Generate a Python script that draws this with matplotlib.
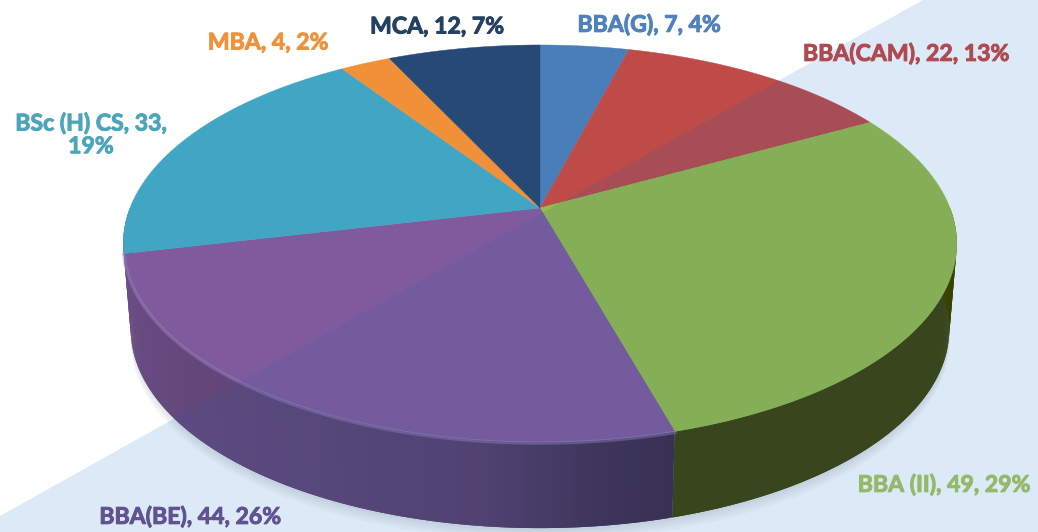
import numpy as np
import matplotlib
matplotlib.use('Agg')
import matplotlib.pyplot as plt
import matplotlib.patheffects as pe
from matplotlib.collections import PolyCollection
from matplotlib.colors import to_rgb
from matplotlib.patches import Polygon

# slices go clockwise from 12 o'clock
labels = ['BBA(G), 7, 4%', 'BBA(CAM), 22, 13%', 'BBA (II), 49, 29%', 'BBA(BE), 44, 26%',
          'BSc (H) CS, 33,\n19%', 'MBA, 4, 2%', 'MCA, 12, 7%']
values = [7, 22, 49, 44, 33, 4, 12]
top_colors = ['#4A7EBB', '#BE4B48', '#93BE4B', '#7F5B9D', '#41A5C4', '#F0913A', '#264A75']
side_colors = ['#2B4C74', '#772C2A', '#3B4105', '#7F5B9D', '#7F5B9D', '#A65F1E', '#16304F']
label_colors = ['#4F81BD', '#B04A52', '#93B96A', '#5F5392', '#4BA6BA', '#F0923C', '#254061']
label_pos = [(649, 25), (906, 54), (944, 485), (190, 517), (91, 135), (268, 43), (437, 27)]

# perspective of the disc, pixels of the 1038x532 canvas
CX, CY = 540, 208
RX, RY = 410, 192.2
K = -0.179
DEPTH = 86
BOTTOM_SCALE = 0.982


def project(theta, drop=0.0):
    u, v = np.sin(theta), -np.cos(theta)
    w = 1 + K * v
    rx = RX * BOTTOM_SCALE if drop else RX
    return CX + rx * u / w, CY + RY * v / w + drop


fig = plt.figure(figsize=(10.38, 5.32), dpi=100)
ax = fig.add_axes([0, 0, 1, 1])
ax.set_xlim(0, 1038)
ax.set_ylim(532, 0)
ax.axis('off')

# diagonal band behind the pie
band = [(923, 0), (1038, 0), (1038, 532), (0, 532), (0, 516)]
ax.add_patch(Polygon(band, closed=True, fc='#DCE9F6', ec='none', zorder=0))

# soft shadow under the pie
t = np.linspace(0, 2 * np.pi, 400)
for off in [12, 9, 6, 3]:
    sx, sy = project(t, DEPTH + off)
    ax.fill(sx, sy, color='#33475F', alpha=0.035, lw=0, zorder=1)

fractions = np.cumsum([0] + values) / sum(values)
edges = fractions * 2 * np.pi

# side wall, only the part facing the viewer
for i in range(len(values)):
    a0, a1 = max(edges[i], np.pi / 2), min(edges[i + 1], 3 * np.pi / 2)
    if a1 <= a0:
        continue
    th = np.linspace(a0, a1, max(int(np.degrees(a1 - a0)) * 2, 3))
    x0, y0 = project(th)
    x1, y1 = project(th, DEPTH)
    # each strip overlaps the next one so no seams show
    quads = [[(x0[j], y0[j]), (x0[min(j + 2, len(th) - 1)], y0[min(j + 2, len(th) - 1)]),
              (x1[min(j + 2, len(th) - 1)], y1[min(j + 2, len(th) - 1)]), (x1[j], y1[j])]
             for j in range(len(th) - 1)]
    deg = np.degrees((th[:-1] + th[1:]) / 2)
    if labels[i].startswith('BBA(BE)'):
        shade = np.interp(deg, [164, 172, 187, 215, 257], [0.46, 0.5, 0.68, 0.76, 0.84])
        cols = [tuple(np.array(to_rgb(side_colors[i])) * s) for s in shade]
    elif labels[i].startswith('BSc'):
        cols = [tuple(np.array(to_rgb(side_colors[i])) * 0.84)] * len(quads)
    else:
        cols = [side_colors[i]] * len(quads)
    ax.add_collection(PolyCollection(quads, facecolors=cols, edgecolors='none', linewidths=0, zorder=2))

# top face
for i in range(len(values)):
    th = np.linspace(edges[i], edges[i + 1], 200)
    x, y = project(th)
    ax.fill(np.r_[CX, x], np.r_[CY, y], color=top_colors[i], lw=0.3, zorder=3)

# lit bevel along the purple rim
th = np.linspace(edges[3], edges[4], 200)
x, y = project(th)
ax.plot(x, y + 1, color='#9A86C4', lw=2.4, alpha=0.45, zorder=4)

# the band tints the pie where it passes behind it
back = np.linspace(-np.pi / 2 - 0.35, np.pi / 2 + 0.35, 200)
front = np.linspace(np.pi / 2, 3 * np.pi / 2, 200)
ox = np.r_[project(back)[0], project(front, DEPTH)[0]]
oy = np.r_[project(back)[1], project(front, DEPTH)[1]]
outline = Polygon(np.c_[ox, oy], closed=True, transform=ax.transData)
tint = Polygon(band, closed=True, fc='#2F5FA0', ec='none', alpha=0.15, zorder=5)
ax.add_patch(tint)
tint.set_clip_path(outline)

for text, pos, col in zip(labels, label_pos, label_colors):
    ax.text(pos[0], pos[1], text, color=col, fontsize=16.6, fontweight='bold', family='Lato',
            ha='center', va='center', linespacing=1.1, zorder=6,
            path_effects=[pe.withStroke(linewidth=0.7, foreground=col)])

fig.savefig('out.png', dpi=100)
